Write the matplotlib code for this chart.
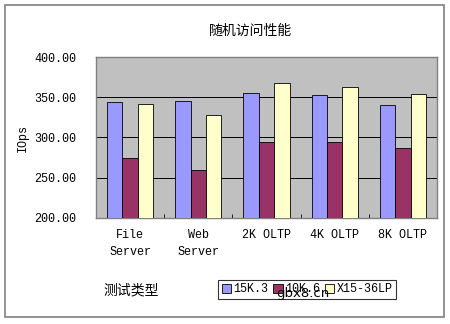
import matplotlib
matplotlib.use("Agg")
import matplotlib.pyplot as plt
from matplotlib.patches import Patch, Rectangle
import numpy as np

categories = ["File\nServer", "Web\nServer", "2K OLTP", "4K OLTP", "8K OLTP"]
series_names = ["15K.3", "10K.6", "X15-36LP"]
s_15k3 = [344.5, 345.3, 355.0, 352.4, 340.0]
s_10k6 = [274.0, 259.6, 294.8, 294.0, 286.6]
s_x15 = [341.6, 328.0, 368.0, 362.4, 353.7]
colors = ["#9999FF", "#993366", "#FFFFCC"]
yticks = [200, 250, 300, 350, 400]

W, H = 450, 324
fig = plt.figure(figsize=(4.5, 3.24), dpi=100)
fig.patch.set_facecolor("white")

# outer chart border
fig.patches.append(Rectangle((5 / W, 1 - 317 / H), 439 / W, 312 / H, transform=fig.transFigure,
                             fill=False, edgecolor="#808080", linewidth=1.2))

ax = fig.add_axes([96 / W, 1 - 218 / H, 341 / W, 161 / H])
ax.set_facecolor("#C0C0C0")

mono = ["Liberation Mono", "DejaVu Sans Mono"]
cjk = ["Noto Sans CJK SC", "DejaVu Sans"]

x = np.arange(len(categories))
bw = 0.225
for i, (vals, c) in enumerate(zip([s_15k3, s_10k6, s_x15], colors)):
    ax.bar(x + (i - 1) * bw, np.array(vals) - 200, bottom=200, width=bw, color=c,
           edgecolor="#000000", linewidth=0.6, zorder=3)

ax.set_xlim(-0.5, len(categories) - 0.5)
ax.set_ylim(200, 400)
ax.set_yticks(yticks)
ax.set_yticklabels([f"{v:.2f}" for v in yticks], fontfamily=mono, fontsize=8.5)
for v in yticks[1:-1]:
    ax.axhline(v, color="#000000", linewidth=0.7, zorder=1)

ax.set_xticks(x)
ax.set_xticklabels(categories, fontfamily=mono, fontsize=8.5, linespacing=1.55)
ax.set_xticks(np.arange(0.5, len(categories) - 0.5), minor=True)
ax.tick_params(axis="x", which="major", length=0, pad=8)
ax.tick_params(axis="x", which="minor", length=3, direction="in", color="#000000")
ax.tick_params(axis="y", length=0, pad=14)
for sp in ax.spines.values():
    sp.set_color("#808080")
    sp.set_linewidth(1.0)

ax.set_ylabel("IOps", fontfamily=mono, fontsize=8.5, labelpad=4)

fig.text(251 / W, 1 - 31 / H, "随机访问性能", fontfamily=cjk, fontsize=10,
         ha="center", va="center")
fig.text(103 / W, 1 - 290 / H, "测试类型", fontfamily=cjk, fontsize=10,
         ha="left", va="center")

handles = [Patch(facecolor=c, edgecolor="#000000", linewidth=0.6) for c in colors]
leg = fig.legend(handles, series_names, loc="center", bbox_to_anchor=(307 / W, 1 - 289.5 / H),
                 ncol=3, frameon=True, fancybox=False, handlelength=0.8, handleheight=0.8,
                 handletextpad=0.2, columnspacing=0.4, borderpad=0.3,
                 prop={"family": mono, "size": 8.5})
leg.get_frame().set_edgecolor("#000000")
leg.get_frame().set_linewidth(0.8)

# watermark overlaid on the legend, as in the source image
fig.text(303 / W, 1 - 294 / H, "gbx8.cn", fontfamily=["DejaVu Sans"], fontsize=9.5,
         ha="center", va="center", color="#000000", zorder=10)

fig.savefig("out.png", dpi=100)
